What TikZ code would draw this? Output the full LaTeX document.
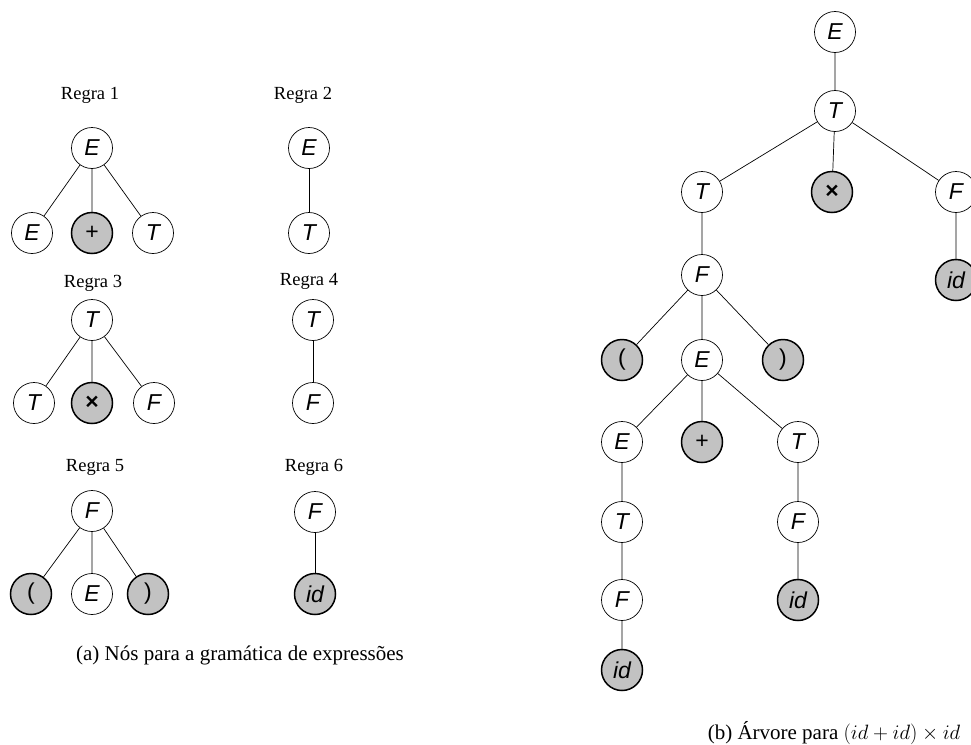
\documentclass[tikz,border=0pt]{standalone}
\usepackage[no-math]{fontspec}
\setmainfont{Liberation Serif}
\setsansfont{Liberation Sans}
\definecolor{termfill}{RGB}{194,194,194}
\newcommand{\symfont}{\fontsize{23}{27}\selectfont\sffamily}
\begin{document}
\begin{tikzpicture}[x=1pt,y=-1pt,
  sym/.style={circle, draw, line width=0.7pt, inner sep=0pt, minimum size=41pt,
    font=\symfont},
  nt/.style={sym, font=\symfont\itshape},
  term/.style={sym, fill=termfill, line width=1.5pt},
  idterm/.style={term, font=\symfont\itshape},
  big/.style={minimum size=38pt},
  rule/.style={font=\fontsize{18.5}{22}\selectfont},
  caption/.style={font=\fontsize{21}{25}\selectfont},
  edge/.style={line width=0.7pt}]
\useasboundingbox (0,0) rectangle (971,744);

% Regra 1: E -> E + T
\node[rule] (r1) at (90,95) {Regra 1};
\node[nt] (a1) at (92,148) {E};
\node[nt] (a2) at (32,233) {E};
\node[term] (a3) at (92,233) {+};
\node[nt] (a4) at (153,233) {T};
\draw[edge] (a1) -- (a2) (a1) -- (a3) (a1) -- (a4);

% Regra 2: E -> T
\node[rule] (r2) at (303,95) {Regra 2};
\node[nt] (b1) at (309,148) {E};
\node[nt] (b2) at (309,233) {T};
\draw[edge] (b1) -- (b2);

% Regra 3: T -> T x F
\node[rule] (r3) at (93,283) {Regra 3};
\node[nt] (c1) at (92,320) {T};
\node[nt] (c2) at (34,403) {T};
\node[term] (c3) at (92,403) {\bfseries ×};
\node[nt] (c4) at (154,403) {F};
\draw[edge] (c1) -- (c2) (c1) -- (c3) (c1) -- (c4);

% Regra 4: T -> F
\node[rule] (r4) at (309,281) {Regra 4};
\node[nt] (d1) at (313,320) {T};
\node[nt] (d2) at (313,403) {F};
\draw[edge] (d1) -- (d2);

% Regra 5: F -> ( E )
\node[rule] (r5) at (95,467) {Regra 5};
\node[nt] (e1) at (92,511) {F};
\node[term] (e2) at (31,594) {(};
\node[nt] (e3) at (92,594) {E};
\node[term] (e4) at (148,594) {)};
\draw[edge] (e1) -- (e2) (e1) -- (e3) (e1) -- (e4);

% Regra 6: F -> id
\node[rule] (r6) at (314,467) {Regra 6};
\node[nt] (f1) at (315,512) {F};
\node[idterm] (f2) at (315,594) {id};
\draw[edge] (f1) -- (f2);

\node[caption] (capa) at (240,655) {(a) Nós para a gramática de expressões};

% Derivation tree for (id + id) x id
\begin{scope}[every node/.append style={big}]
\node[nt] (t0) at (835,32) {E};
\node[nt] (t1) at (835,111) {T};
\node[nt] (t2) at (702,192) {T};
\node[term] (t3) at (832,192) {\bfseries ×};
\node[nt] (t4) at (956,192) {F};
\node[idterm] (t5) at (956,280) {id};
\node[nt] (t6) at (702,275) {F};
\node[term] (t7) at (622,360) {(};
\node[nt] (t8) at (702,360) {E};
\node[term] (t9) at (783,360) {)};
\node[nt] (t10) at (622,442) {E};
\node[term] (t11) at (702,442) {+};
\node[nt] (t12) at (798,442) {T};
\node[nt] (t13) at (622,522) {T};
\node[nt] (t14) at (798,522) {F};
\node[nt] (t15) at (622,600) {F};
\node[idterm] (t16) at (798,600) {id};
\node[idterm] (t17) at (622,670) {id};
\end{scope}
\draw[edge] (t0) -- (t1)
  (t1) -- (t2) (t1) -- (t3) (t1) -- (t4)
  (t4) -- (t5)
  (t2) -- (t6)
  (t6) -- (t7) (t6) -- (t8) (t6) -- (t9)
  (t8) -- (t10) (t8) -- (t11) (t8) -- (t12)
  (t10) -- (t13) (t13) -- (t15) (t15) -- (t17)
  (t12) -- (t14) (t14) -- (t16);

\node[caption] (capb) at (834,733) {(b) Árvore para $(id+id)\times id$};
\end{tikzpicture}
\end{document}
